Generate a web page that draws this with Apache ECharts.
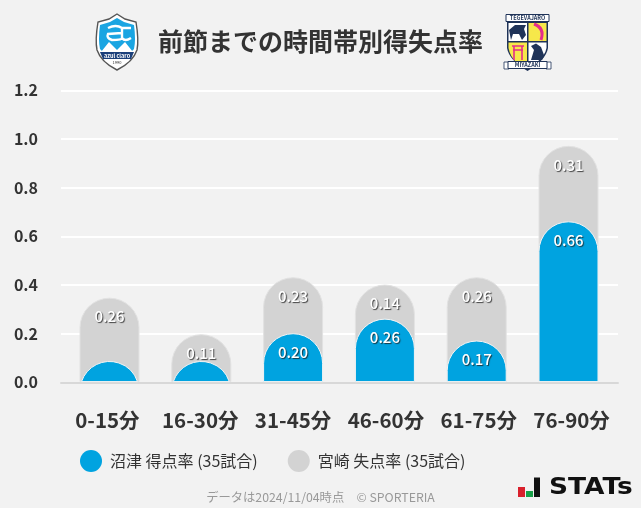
<!DOCTYPE html>
<html><head><meta charset="utf-8">
<style>html,body{margin:0;padding:0;background:#f2f2f2}#c{width:641px;height:508px}</style>
<script src="https://cdn.jsdelivr.net/npm/echarts@6/dist/echarts.min.js"></script>
</head><body><div id="c"></div>
<script>
const categories = ['0-15分','16-30分','31-45分','46-60分','61-75分','76-90分'];
const scoredRate = [0.086,0.086,0.20,0.26,0.17,0.66];
const concededRate = [0.26,0.11,0.23,0.14,0.26,0.31];
const seriesNames = ['沼津 得点率 (35試合)','宮崎 失点率 (35試合)'];
const titleText = '前節までの時間帯別得失点率';
const footerText = 'データは2024/11/04時点　© SPORTERIA';
const BLUE='#00a3e0', GRAY='#d3d3d3', FONT='"Noto Sans CJK JP","Noto Sans",sans-serif';

function barPath(cx,top,base,w,r){
  const h=base-top;
  if(h>=r) return `M${cx-w/2} ${base}L${cx-w/2} ${top+r}A${r} ${r} 0 0 1 ${cx+w/2} ${top+r}L${cx+w/2} ${base}Z`;
  const hw=Math.sqrt(r*r-(r-h)*(r-h));
  return `M${cx-hw} ${base}A${r} ${r} 0 0 1 ${cx+hw} ${base}Z`;
}
function renderer(kind){
  return function(params,api){
    const i=api.value(0), a=api.value(1), b=api.value(2);
    const topVal = kind==='gray' ? a+b : a;
    const labelVal = kind==='gray' ? b : a;
    const p=api.coord([i,topVal]), o=api.coord([i,0]);
    const w=59, r=29.5;
    const children=[{type:'path',shape:{pathData:barPath(p[0],p[1],o[1]-0.8,w,r)},
      style:{fill:kind==='gray'?GRAY:BLUE,stroke:kind==='gray'?'#e2e2e2':'#f4f4f4',lineWidth:1}}];
    if(labelVal>=0.1) children.push({type:'text',z2:10,style:{text:labelVal.toFixed(2),x:p[0],y:p[1]+18.5,
      align:'center',verticalAlign:'middle',fill:'#fff',font:'500 15px '+FONT,
      textShadowColor:'rgba(30,30,30,0.8)',textShadowBlur:1,textShadowOffsetX:1,textShadowOffsetY:1}});
    return {type:'group',children};
  };
}
function P(d,fill,stroke,lw){return {type:'path',shape:{pathData:d},style:{fill:fill||'none',stroke:stroke||'none',lineWidth:lw||1}};}
function R(x,y,w,h,fill,stroke){return {type:'rect',shape:{x,y,width:w,height:h},style:{fill,stroke:stroke||'none',lineWidth:1}};}
function T(text,x,y,fill,font){return {type:'text',style:{text,x,y,fill,font,align:'center',verticalAlign:'middle'}};}
const NAVY='#1f3358', YEL='#f6e84a', PINK='#e52d8b';
function renderDecor(){
  return {type:'group',children:[
    P('M117 14L125 19L136 22Q139 40 137 50Q133 62 117 70Q101 62 97 50Q95 40 98 22L109 19Z','#fff','#555',1.4),
    P('M117 18L124 22L134 25Q136 40 134 49L130 53L104 53L100 49Q98 40 100 25L110 22Z','#1aa5e2'),
    P('M101 52L109 42L117 50L125 42L133 52Z','#fff'),
    P('M100 52L134 52L131 59L103 59Z','#1b3f7a'),
    T('azul claro',117,55.6,'#fff','bold 5.5px '+FONT),
    T('1990',117,62.5,'#333','4px '+FONT),
    P('M108 28Q116 24 122 28L122 38Q122 40 112 40Q106 38 108 34L122 33M122 38Q125 42 131 38M122 28L131 28',null,'#fff',2.4),
    P('M507 21.5L548 21.5L548 48Q546 60 527.5 71Q509 60 507 48Z',NAVY),
    R(506,14.5,43,7,'#fff',NAVY),
    T('TEGEVAJARO',527.5,18.2,NAVY,'bold 5.5px '+FONT),
    R(508.5,23,18.5,18,'#fff'),
    P('M509 30L515 25L526 25L524 29L526 35L522 40L519 34L513 34L511 40Z',NAVY),
    R(528.5,23,18,18,YEL),
    P('M534 24Q545 28 541 40',null,PINK,3),
    P('M508.5 42.5L527 42.5L527 62L516 62Q510 56 508.5 48Z',YEL),
    P('M512 46L524 46M514 46L514 60M522 46L522 60M513 50L523 50',null,PINK,1.6),
    P('M528.5 42.5L546.5 42.5L546.5 48Q545 56 537 62L528.5 62Z','#fff'),
    P('M531 60L534 50L531 46L536 43.5L541 47L544 55L546 52L542 60Z',NAVY),
    P('M504 62L509 62L509 69L504 69Z','#fff',NAVY,0.8),
    P('M546 62L551 62L551 69L546 69Z','#fff',NAVY,0.8),
    R(508,61.5,39,7,'#fff',NAVY),
    T('MIYAZAKI',527.5,65.2,NAVY,'bold 5.5px '+FONT),
    R(518,487,7,10,'#d9202c'),
    R(526,491,7,6,'#18a048'),
    R(534,477.5,6,19.5,'#111'),
    {type:'text',x:549,y:488,scaleX:1.15,style:{text:'STATs',x:0,y:0,fill:'#111',font:'bold 23px "DejaVu Sans",sans-serif',verticalAlign:'middle'}}
  ]};
}
const table = categories.map((c,i)=>[i,scoredRate[i],concededRate[i]]);
const chart=echarts.init(document.getElementById('c'),null,{renderer:'canvas'});
const Y0=382.4, YT=90.4;
chart.setOption({
  animation:false,backgroundColor:'#f2f2f2',textStyle:{fontFamily:FONT},
  grid:[
    {left:61,right:23,top:YT,height:Y0-YT},
    {left:63.6,width:550.8,top:YT,height:Y0-YT}
  ],
  xAxis:[
    {gridIndex:0,type:'category',data:categories,axisTick:{show:false},
     axisLine:{lineStyle:{color:'#d8d8d8',width:2}},splitLine:{show:false},
     axisLabel:{color:'#333',fontSize:20.5,fontWeight:'bold',fontFamily:FONT,margin:28,interval:0}},
    {gridIndex:1,type:'category',data:categories,axisTick:{show:false},axisLine:{show:false},axisLabel:{show:false}}
  ],
  yAxis:[
    {gridIndex:0,type:'value',min:0,max:1.2,interval:0.2,axisLine:{show:false},axisTick:{show:false},
     splitLine:{lineStyle:{color:'#fff',width:2}},
     axisLabel:{color:'#333',fontSize:16,fontWeight:'bold',fontFamily:FONT,margin:23,padding:[0,0,6,0],
       formatter:v=>v.toFixed(1)}},
    {gridIndex:1,type:'value',min:0,max:1.2,interval:0.2,show:false}
  ],
  legend:{left:80,top:450,padding:0,itemWidth:22,itemHeight:22,itemGap:30,icon:'circle',
    textStyle:{color:'#333',fontSize:16,fontFamily:FONT,padding:[0,0,0,3]},
    data:seriesNames},
  series:[
    {name:seriesNames[1],type:'custom',xAxisIndex:1,yAxisIndex:1,data:table,z:2,itemStyle:{color:GRAY},
     encode:{x:0,y:2},renderItem:renderer('gray'),clip:false},
    {name:seriesNames[0],type:'custom',xAxisIndex:1,yAxisIndex:1,data:table,z:3,itemStyle:{color:BLUE},
     encode:{x:0,y:1},renderItem:renderer('blue'),clip:false},
    {name:'decor',type:'custom',coordinateSystem:'none',data:[[0]],renderItem:renderDecor,silent:true,z:5}
  ],
  graphic:[
    {type:'text',x:320.5,y:41,style:{text:titleText,fill:'#333',font:'bold 25px '+FONT,align:'center',verticalAlign:'middle'}},
    {type:'text',x:320.5,y:497,style:{text:footerText,fill:'#999',font:'12.3px '+FONT,align:'center',verticalAlign:'middle'}}
  ]
});
</script></body></html>
